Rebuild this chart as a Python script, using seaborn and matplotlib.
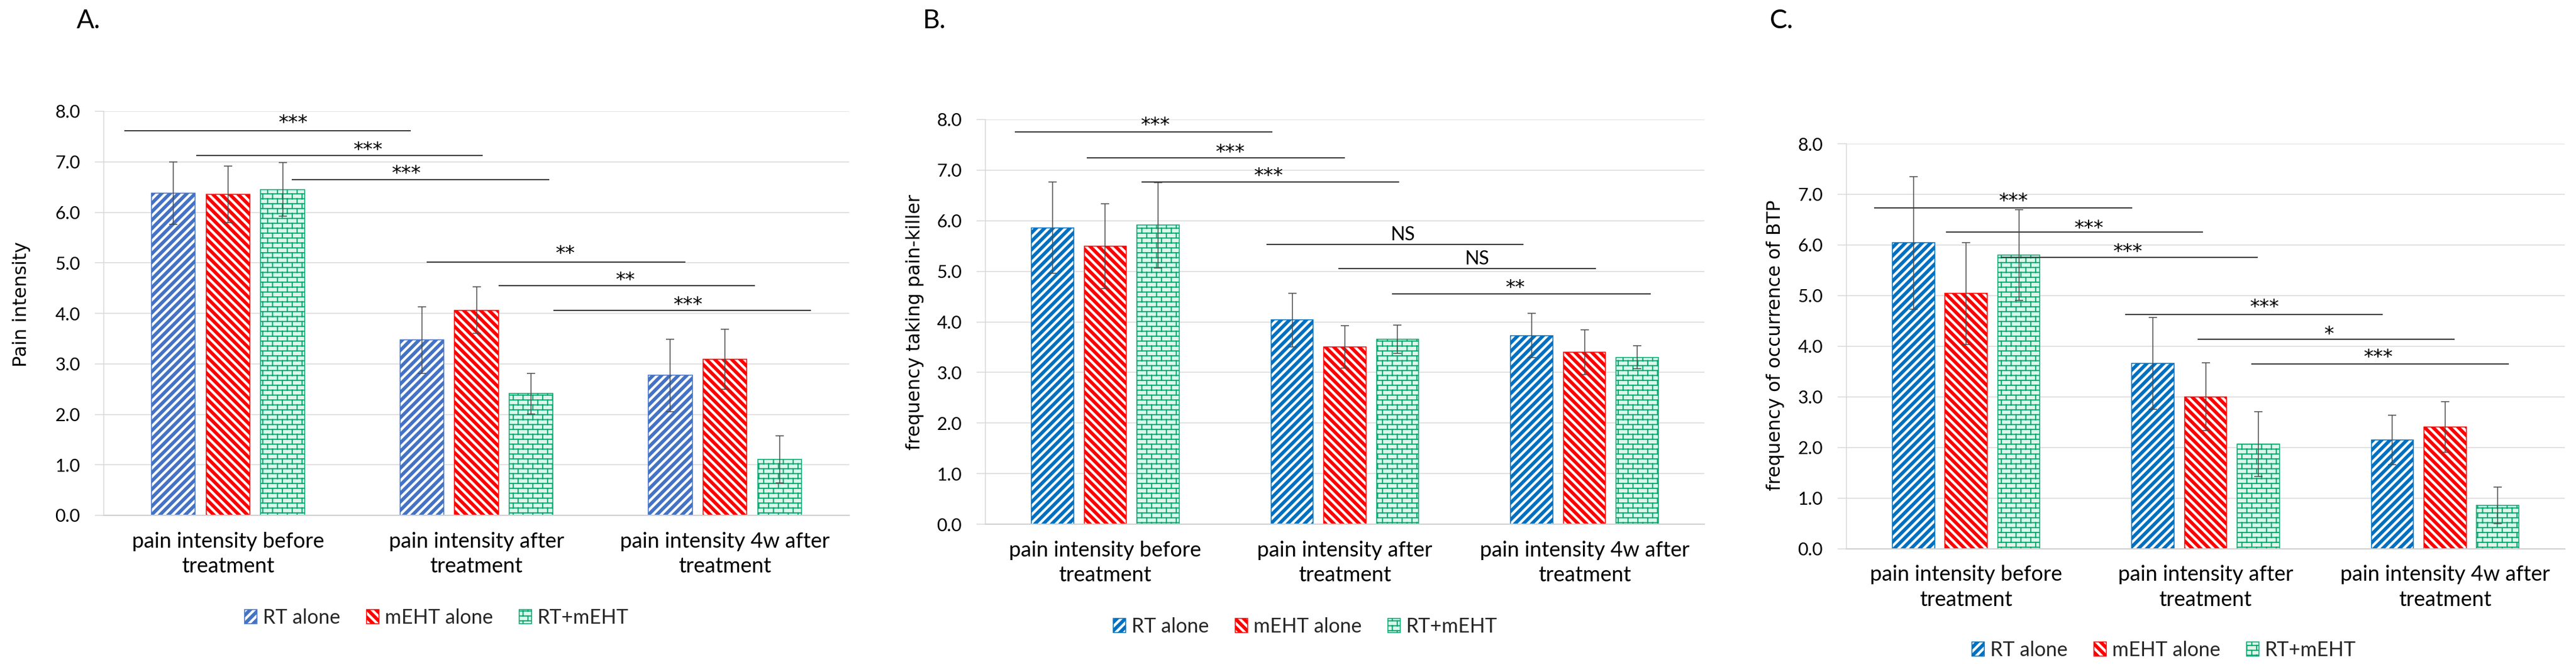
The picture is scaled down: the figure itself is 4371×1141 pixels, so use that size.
import warnings
warnings.filterwarnings("ignore")
import numpy as np
import pandas as pd
import matplotlib
matplotlib.use("Agg")
import matplotlib.pyplot as plt
import matplotlib.hatch as mhatch
import matplotlib.patches as mpatches
import matplotlib.transforms as mtransforms
from matplotlib.path import Path
import seaborn as sns

# ---------------- data ----------------
categories = ["pain intensity before\ntreatment",
              "pain intensity after\ntreatment",
              "pain intensity 4w after\ntreatment"]
groups = ["RT alone", "mEHT alone", "RT+mEHT"]
yticks = [0, 1, 2, 3, 4, 5, 6, 7, 8]
ytick_labels = ["0.0", "1.0", "2.0", "3.0", "4.0", "5.0", "6.0", "7.0", "8.0"]

# Panel A: pain intensity
a_rt_mean = [6.38, 3.47, 2.77]
a_meht_mean = [6.36, 4.06, 3.09]
a_combo_mean = [6.45, 2.41, 1.11]
a_rt_sd = [0.62, 0.66, 0.72]
a_meht_sd = [0.56, 0.46, 0.60]
a_combo_sd = [0.53, 0.40, 0.47]

# Panel B: frequency taking pain-killer
b_rt_mean = [5.86, 4.04, 3.73]
b_meht_mean = [5.50, 3.51, 3.40]
b_combo_mean = [5.91, 3.66, 3.30]
b_rt_sd = [0.90, 0.53, 0.44]
b_meht_sd = [0.84, 0.42, 0.44]
b_combo_sd = [0.84, 0.28, 0.23]

# Panel C: frequency of occurrence of BTP
c_rt_mean = [6.04, 3.66, 2.15]
c_meht_mean = [5.04, 3.00, 2.40]
c_combo_mean = [5.80, 2.06, 0.86]
c_rt_sd = [1.31, 0.91, 0.49]
c_meht_sd = [1.01, 0.67, 0.50]
c_combo_sd = [0.90, 0.64, 0.36]

# significance brackets: (x start, x end, y, label, label x, label y)
a_sig = [(-0.418, 0.735, 7.61, "***", 0.261, 7.88),
         (-0.128, 1.025, 7.12, "***", 0.562, 7.35),
         (0.256, 1.293, 6.65, "***", 0.716, 6.88),
         (0.800, 1.840, 5.02, "**", 1.357, 5.30),
         (1.089, 2.121, 4.55, "**", 1.599, 4.77),
         (1.310, 2.346, 4.06, "***", 1.850, 4.28)]
b_sig = [(-0.377, 0.697, 7.75, "***", 0.207, 8.00),
         (-0.077, 1.000, 7.24, "***", 0.520, 7.46),
         (0.151, 1.227, 6.77, "***", 0.680, 7.00),
         (0.673, 1.746, 5.53, "NS", 1.240, 5.75),
         (0.973, 2.047, 5.05, "NS", 1.550, 5.28),
         (1.197, 2.276, 4.55, "**", 1.710, 4.79)]
c_sig = [(-0.385, 0.693, 6.73, "***", 0.197, 6.98),
         (-0.085, 0.990, 6.25, "***", 0.511, 6.44),
         (0.146, 1.218, 5.75, "***", 0.673, 5.98),
         (0.664, 1.740, 4.63, "***", 1.244, 4.88),
         (0.966, 2.041, 4.14, "*", 1.514, 4.35),
         (1.190, 2.265, 3.645, "***", 1.720, 3.89)]

ylabels = ["Pain intensity", "frequency taking pain-killer",
           "frequency of occurrence of BTP"]
panel_letters = ["A.", "B.", "C."]

# ---------------- custom hatches (Excel-like patterns) ----------------
class WideStripeHatch(mhatch.HatchPatternBase):
    n_stripes = 7
    width = 0.055

    def __init__(self, hatch, density):
        self.up = hatch.count("u")
        self.down = hatch.count("d")
        self.num_polys = (2 * self.n_stripes + 1) * (self.up + self.down)
        self.num_vertices = self.num_polys * 5

    def set_vertices_and_codes(self, vertices, codes):
        polys = []
        steps = np.arange(-self.n_stripes, self.n_stripes + 1) / self.n_stripes
        w = self.width
        for _ in range(self.up):
            for s in steps:
                polys.append([(s, 0), (s + w, 0), (s + w + 1, 1), (s + 1, 1), (s, 0)])
        for _ in range(self.down):
            for s in steps:
                polys.append([(s, 1), (s + w, 1), (s + w + 1, 0), (s + 1, 0), (s, 1)])
        vertices[:] = np.array(polys, float).reshape(-1, 2)
        codes[:] = np.tile([Path.MOVETO, Path.LINETO, Path.LINETO,
                            Path.LINETO, Path.CLOSEPOLY], len(polys))


class BrickHatch(mhatch.HatchPatternBase):
    rows = 12
    cols = 6

    def __init__(self, hatch, density):
        if hatch.count("k"):
            self.num_vertices = self.rows * 2 + (self.rows + 1) * self.cols * 2
        else:
            self.num_vertices = 0

    def set_vertices_and_codes(self, vertices, codes):
        segs = []
        for j in range(self.rows):
            y = (j + 0.5) / self.rows
            segs.append([(0, y), (1, y)])
        for j in range(-1, self.rows):
            y0 = (j + 0.5) / self.rows
            y1 = (j + 1.5) / self.rows
            off = 0.5 if j % 2 else 0.0
            for i in range(self.cols):
                x = (i + off + 0.25) / self.cols
                segs.append([(x, y0), (x, y1)])
        vertices[:] = np.array(segs, float).reshape(-1, 2)
        codes[:] = np.tile([Path.MOVETO, Path.LINETO], len(segs))


mhatch._hatch_types.extend([WideStripeHatch, BrickHatch])

# ---------------- style ----------------
sns.set_style("white")
plt.rcParams["font.family"] = ["Lato", "DejaVu Sans"]
plt.rcParams["hatch.linewidth"] = 1.4

W, H = 4371, 1141
fig = plt.figure(figsize=(W / 100, H / 100), dpi=100)

# axes boxes in pixels: left, right, top, bottom
boxes = [(176, 1441, 189, 875), (1672, 2892, 203, 890), (3133, 4352, 244, 931.5)]
ylabel_pos = [(37, 517), (1552, 547), (3013, 586)]
letter_pos = [(130, 48), (1566, 48), (3003, 48)]
legend_pos = [(741, 1049), (2215, 1064), (3672, 1104)]

blues = ["#4472C4", "#0070C0", "#0070C0"]
red = "#FF0000"
green = "#00A870"
brick_bg = "#DDF7EA"
hatches = ["u", "d", "k"]

panels = [
    ([a_rt_mean, a_meht_mean, a_combo_mean], [a_rt_sd, a_meht_sd, a_combo_sd], a_sig),
    ([b_rt_mean, b_meht_mean, b_combo_mean], [b_rt_sd, b_meht_sd, b_combo_sd], b_sig),
    ([c_rt_mean, c_meht_mean, c_combo_mean], [c_rt_sd, c_meht_sd, c_combo_sd], c_sig),
]

for pi, (means, sds, sigs) in enumerate(panels):
    l, r, t, b = boxes[pi]
    ax = fig.add_axes([l / W, 1 - b / H, (r - l) / W, (b - t) / H])
    cols = [blues[pi], red, green]
    faces = ["white", "white", brick_bg]

    df = pd.DataFrame({
        "category": categories * 3,
        "group": [g for g in groups for _ in categories],
        "value": np.concatenate(means),
    })
    sns.barplot(data=df, x="category", y="value", hue="group",
                order=categories, hue_order=groups,
                palette=dict(zip(groups, cols)), saturation=1,
                width=0.66, gap=0.2, errorbar=None, legend=False, ax=ax)

    pitch = 0.66 / 3
    xs, hs, es = [], [], []
    for p in ax.patches:
        cx = p.get_x() + p.get_width() / 2
        ci = int(round(cx))
        gi = int(round((cx - ci) / pitch)) + 1
        gi = min(max(gi, 0), 2)
        p.set_facecolor(faces[gi])
        p.set_edgecolor(cols[gi])
        p.set_linewidth(1.1)
        p.set_hatch(hatches[gi])
        xs.append(cx)
        hs.append(p.get_height())
        es.append(sds[gi][ci])
    ax.errorbar(xs, hs, yerr=es, fmt="none", ecolor="#4a4a4a",
                elinewidth=1.1, capsize=5, capthick=1.1, zorder=5)

    ax.set_xlim(-0.5, 2.5)
    ax.set_ylim(0, 8)
    ax.set_yticks(yticks)
    ax.set_yticklabels(ytick_labels)
    ax.set_xlabel("")
    ax.yaxis.grid(True, color="#D9D9D9", linewidth=1.1)
    ax.xaxis.grid(False)
    ax.set_axisbelow(True)
    for s in ["top", "right"]:
        ax.spines[s].set_visible(False)
    ax.spines["left"].set_color("#D9D9D9")
    ax.spines["left"].set_linewidth(1.1)
    ax.spines["bottom"].set_color("#D0D0D0")
    ax.spines["bottom"].set_linewidth(1.5)
    ax.tick_params(axis="y", length=10.8, width=1.1, color="#D9D9D9",
                   pad=18, labelsize=22, labelcolor="black", left=True)
    ax.tick_params(axis="x", length=0, pad=20, labelsize=26, labelcolor="black")
    for lbl in ax.get_xticklabels():
        lbl.set_linespacing(1.35)

    ax.set_ylabel(ylabels[pi], fontsize=22.7, family=["DejaVu Sans"], color="black")
    ax.yaxis.set_label_coords(ylabel_pos[pi][0] / W, 1 - ylabel_pos[pi][1] / H,
                              transform=fig.transFigure)
    ax.yaxis.label.set_va("center")

    # significance lines
    star_off = mtransforms.offset_copy(ax.transData, fig=fig, x=0, y=-20, units="dots")
    ns_off = mtransforms.offset_copy(ax.transData, fig=fig, x=0, y=-12, units="dots")
    for x0, x1, y, lab, lx, ly in sigs:
        ax.plot([x0, x1], [y, y], color="#3a3a3a", linewidth=1.5,
                solid_capstyle="butt", clip_on=False, zorder=6)
        if lab == "NS":
            ax.text(lx, ly, lab, transform=ns_off, ha="center", va="baseline",
                    fontsize=23, color="black", clip_on=False, zorder=7)
        else:
            ax.text(lx, ly, lab, transform=star_off, ha="center", va="baseline",
                    fontsize=24, family=["DejaVu Sans"], color="black",
                    clip_on=False, zorder=7)

    fig.text(letter_pos[pi][0] / W, 1 - letter_pos[pi][1] / H, panel_letters[pi],
             ha="left", va="baseline", fontsize=32, color="black")

    handles = [mpatches.Patch(facecolor=faces[i], edgecolor=cols[i],
                              hatch=hatches[i], linewidth=1.1) for i in range(3)]
    fig.legend(handles, groups, loc="center",
               bbox_to_anchor=(legend_pos[pi][0] / W, 1 - legend_pos[pi][1] / H),
               ncol=3, frameon=False, fontsize=24.5, handlelength=0.62,
               handleheight=0.68, handletextpad=0.3, columnspacing=1.3)

fig.savefig("out.png", dpi=100, facecolor="white")
